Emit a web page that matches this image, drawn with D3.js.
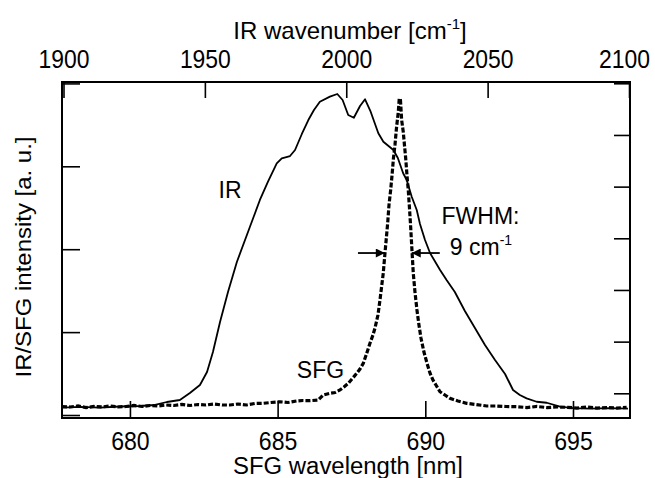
<!DOCTYPE html>
<html><head><meta charset="utf-8">
<script src="https://cdn.jsdelivr.net/npm/d3@7"></script>
<style>body{margin:0;background:#fff}svg{display:block}text{font-family:"Liberation Sans",Arial,sans-serif;fill:#000}</style>
</head><body><svg id="c" width="655" height="478"></svg>
<script>
// ---- data ----
const irWavelength = [677.70,678.31,678.99,679.66,680.34,680.85,681.25,681.69,682.03,682.37,682.61,682.81,683.05,683.32,683.62,684.06,684.40,684.67,684.97,685.14,685.42,685.59,685.82,686.04,686.23,686.43,686.77,687.02,687.20,687.39,687.58,687.79,687.96,688.15,688.41,688.58,688.92,689.07,689.25,689.37,689.54,689.71,689.82,689.99,690.16,690.50,690.72,691.00,691.34,691.68,692.02,692.36,692.70,692.97,693.20,693.43,693.77,694.11,694.56,695.00,695.57,696.25,696.86];
const irIntensity = [0.090,0.097,0.090,0.103,0.109,0.121,0.157,0.181,0.265,0.362,0.519,0.760,1.122,1.484,1.846,2.268,2.594,2.811,3.036,3.097,3.124,3.197,3.390,3.558,3.679,3.779,3.840,3.872,3.800,3.619,3.586,3.727,3.808,3.659,3.398,3.297,3.197,3.100,2.916,2.835,2.633,2.473,2.304,2.111,1.954,1.749,1.628,1.484,1.255,1.049,0.844,0.663,0.495,0.302,0.241,0.201,0.160,0.148,0.100,0.084,0.078,0.084,0.078];
const sfgWavelength = [677.700,677.971,678.242,678.512,678.783,679.054,679.325,679.596,679.867,680.137,680.408,680.679,680.950,681.221,681.491,681.762,682.033,682.304,682.575,682.846,683.116,683.387,683.658,683.953,684.233,684.514,684.775,685.080,685.351,685.645,685.858,686.095,686.376,686.545,686.772,686.942,687.111,687.246,687.392,687.517,687.676,687.788,687.900,688.008,688.126,688.228,688.296,688.397,688.465,688.577,688.635,688.726,688.770,688.827,688.871,688.922,688.973,689.024,689.085,689.118,689.159,689.199,689.254,689.294,689.335,689.379,689.423,689.464,689.504,689.548,689.592,689.650,689.717,689.785,689.853,689.954,690.056,690.157,690.259,690.360,690.496,690.665,690.834,691.105,691.400,691.715,692.077,692.392,692.730,693.092,693.441,693.779,694.118,694.457,694.785,695.134,695.472,695.811,696.149,696.488,696.816];
const sfgIntensity = [0.103,0.097,0.109,0.090,0.103,0.097,0.109,0.097,0.103,0.115,0.103,0.115,0.109,0.121,0.115,0.127,0.115,0.127,0.121,0.133,0.121,0.121,0.133,0.121,0.139,0.141,0.151,0.160,0.151,0.169,0.175,0.173,0.181,0.241,0.262,0.271,0.302,0.338,0.382,0.434,0.503,0.555,0.624,0.736,0.865,0.965,1.049,1.206,1.387,1.713,1.954,2.316,2.533,2.714,2.883,3.100,3.257,3.462,3.655,3.818,3.800,3.558,3.414,3.257,3.100,2.895,2.714,2.497,2.271,1.990,1.713,1.484,1.267,1.086,0.929,0.760,0.627,0.507,0.422,0.362,0.281,0.241,0.201,0.169,0.141,0.127,0.109,0.109,0.103,0.100,0.090,0.103,0.090,0.097,0.093,0.084,0.097,0.084,0.090,0.084,0.093];
const bottomTicks = [680,685,690,695];
const topTicks = [1900,1950,2000,2050,2100];
const leftTicks = [0,1,2,3,4];
const rightTicks = [0,1,2,3,4,5,6];
const labels = {top:"IR wavenumber [cm", bottom:"SFG wavelength [nm]", y:"IR/SFG intensity [a. u.]"};
const annotations = [
  {text:"IR", x:683.0, y:2.62},
  {text:"SFG", x:685.65, y:0.446},
  {text:"FWHM:", x:690.55, y:2.30}
];
const fwhm = {leftTail:687.72, leftTip:688.63, rightTail:690.49, rightTip:689.54, level:1.954, labelX:690.83, labelY:1.93};

// ---- layout ----
const L=62,R=630,T=82,B=418;
const svg=d3.select("#c");
const x=d3.scaleLinear().domain([677.7,696.93]).range([L,R]);
const xTop=d3.scaleLinear().domain([1900,2100]).range([63.5,629]);
const y=d3.scaleLinear().domain([-0.036,4.017]).range([B,T]);
const yR=d3.scaleLinear().domain([-0.478,6.025]).range([B,T]);

function styleAxis(g){g.select(".domain").remove();g.selectAll(".tick line").attr("stroke","#000").attr("stroke-width",1.6);}
svg.append("g").attr("transform",`translate(0,${B})`)
  .call(d3.axisBottom(x).tickValues(bottomTicks).tickSizeInner(-17).tickSizeOuter(0).tickPadding(0).tickFormat(d3.format("d")))
  .call(styleAxis)
  .call(g=>g.selectAll(".tick text").attr("y",32).attr("dy",0).style("font-size","25px")
    .attr("textLength",38.5).attr("lengthAdjust","spacingAndGlyphs"));
svg.append("g").attr("transform",`translate(0,${T})`)
  .call(d3.axisTop(xTop).tickValues(topTicks).tickSizeInner(-16).tickSizeOuter(0).tickFormat(d3.format("d")))
  .call(styleAxis)
  .call(g=>g.selectAll(".tick text").attr("y",-14).attr("dy",0).style("font-size","25px")
    .attr("textLength",51).attr("lengthAdjust","spacingAndGlyphs")
    .attr("x",d=>d===2100?-5:0));
svg.append("g").attr("transform",`translate(${L},0)`)
  .call(d3.axisLeft(y).tickValues(leftTicks).tickSizeInner(-18).tickSizeOuter(0).tickFormat(""))
  .call(styleAxis);
svg.append("g").attr("transform",`translate(${R},0)`)
  .call(d3.axisRight(yR).tickValues(rightTicks).tickSizeInner(-16).tickSizeOuter(0).tickFormat(""))
  .call(styleAxis);

svg.append("rect").attr("x",L).attr("y",T).attr("width",R-L).attr("height",B-T)
  .attr("fill","none").attr("stroke","#000").attr("stroke-width",2);

const irData=irWavelength.map((d,i)=>[d,irIntensity[i]]);
const sfgData=sfgWavelength.map((d,i)=>[d,sfgIntensity[i]]);
const line=d3.line().x(d=>x(d[0])).y(d=>y(d[1]));
svg.append("path").datum(irData).attr("d",line).attr("fill","none").attr("stroke","#000").attr("stroke-width",1.8).attr("stroke-linejoin","round");
svg.append("path").datum(sfgData).attr("d",line).attr("fill","none").attr("stroke","#000").attr("stroke-width",3.2).attr("stroke-dasharray","5,2");

svg.selectAll("text.ann").data(annotations).join("text").attr("class","ann")
  .attr("x",d=>x(d.x)).attr("y",d=>y(d.y)).style("font-size","23px").text(d=>d.text);
const fl=svg.append("text").attr("x",x(fwhm.labelX)).attr("y",y(fwhm.labelY)).style("font-size","23px");
fl.append("tspan").text("9 cm");
fl.append("tspan").attr("dy",-10).style("font-size","14px").text("-1");

const defs=svg.append("defs");
defs.append("marker").attr("id","ah").attr("viewBox","0 0 10 10").attr("refX",10).attr("refY",5)
  .attr("markerWidth",11).attr("markerHeight",9).attr("markerUnits","userSpaceOnUse").attr("orient","auto")
  .append("path").attr("d","M0,0L10,5L0,10Z").attr("fill","#000");
[[fwhm.leftTail,fwhm.leftTip],[fwhm.rightTail,fwhm.rightTip]].forEach(([a,b])=>{
  svg.append("line").attr("x1",x(a)).attr("x2",x(b)).attr("y1",y(fwhm.level)).attr("y2",y(fwhm.level))
    .attr("stroke","#000").attr("stroke-width",1.8).attr("marker-end","url(#ah)");
});

const tt=svg.append("text").attr("x",350).attr("y",39).attr("text-anchor","middle").style("font-size","24px");
tt.append("tspan").text(labels.top);
tt.append("tspan").attr("dy",-10).style("font-size","15px").text("-1");
tt.append("tspan").attr("dy",10).text("]");
svg.append("text").attr("x",348).attr("y",474).attr("text-anchor","middle").style("font-size","23px")
  .attr("textLength",230).attr("lengthAdjust","spacingAndGlyphs").text(labels.bottom);
svg.append("text").attr("transform","translate(31,257) rotate(-90)").attr("text-anchor","middle").style("font-size","22px")
  .attr("textLength",241).attr("lengthAdjust","spacingAndGlyphs").text(labels.y);
</script></body></html>
